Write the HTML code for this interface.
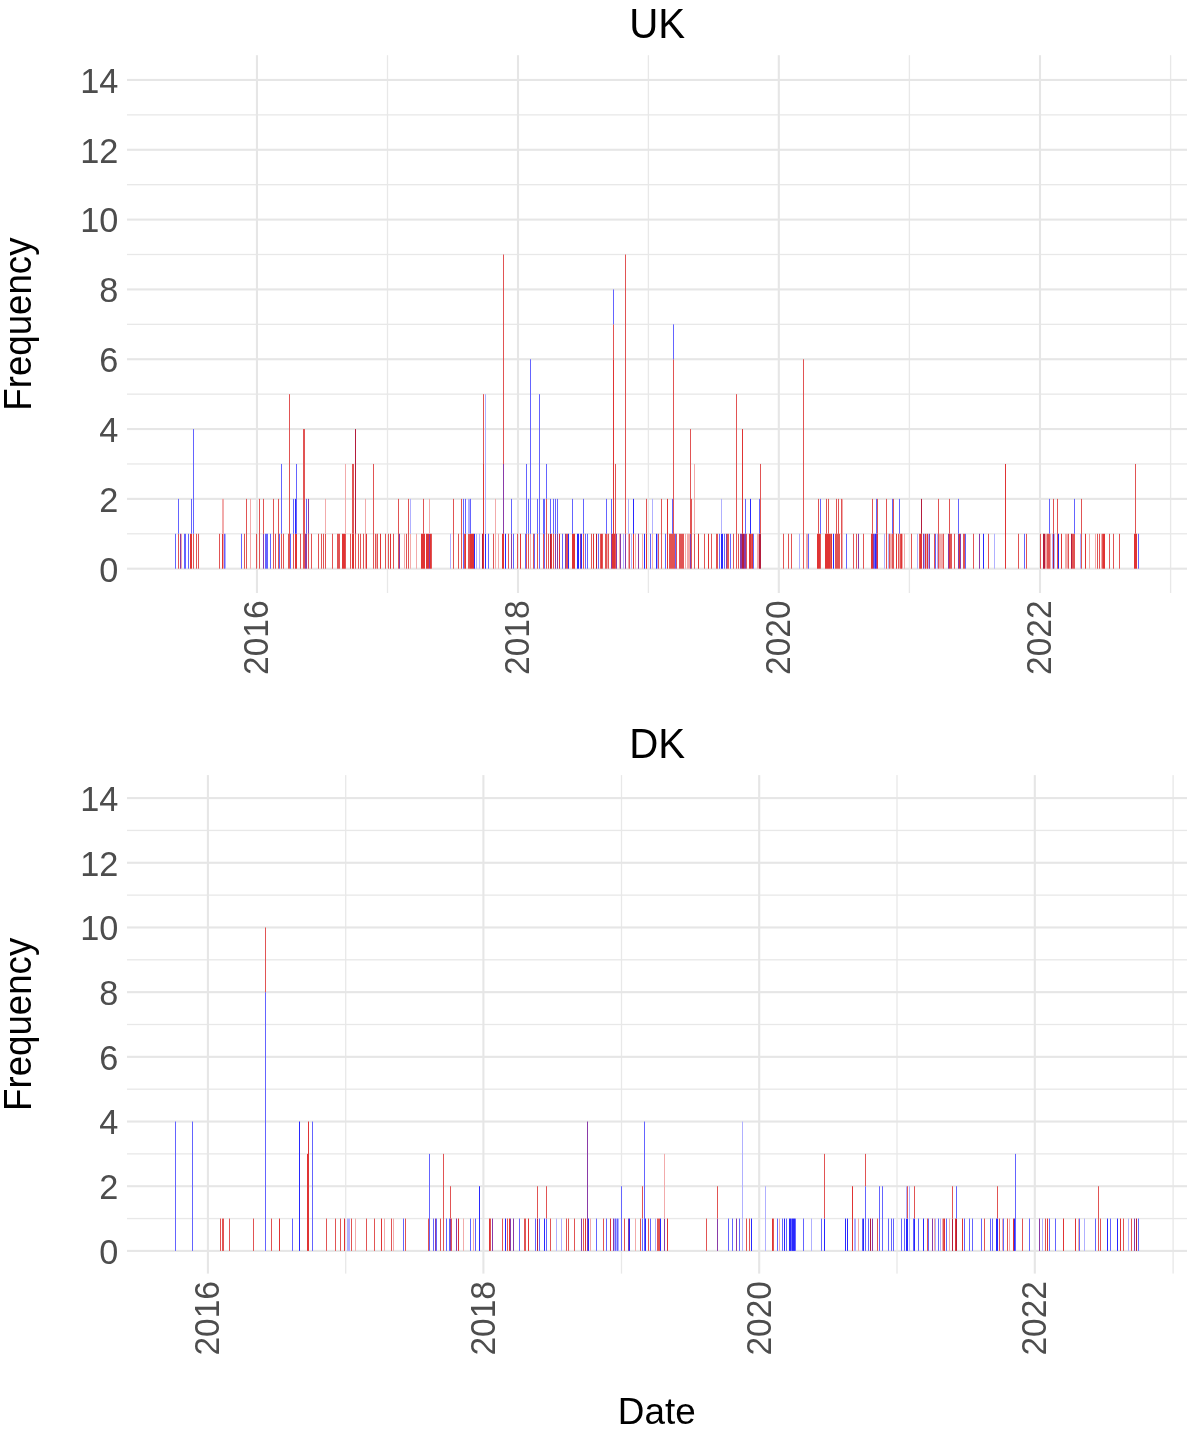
<!DOCTYPE html>
<html><head><meta charset="utf-8"><title>Frequency by date</title>
<style>
html,body{margin:0;padding:0;background:#fff;}
body{width:1187px;height:1442px;overflow:hidden;}
svg{display:block;}
text{font-family:"Liberation Sans",Arial,Helvetica,sans-serif;}
.tk{font-size:35.2px;fill:#4d4d4d;}
.ti{font-size:42.6px;fill:#000;}
.ax{font-size:38.0px;fill:#000;}
.ax2{font-size:37.85px;fill:#000;}
</style></head><body>
<svg width="1187" height="1442" viewBox="0 0 1187 1442">
<rect width="100%" height="100%" fill="#fff"/>
<g><rect x="127.0" y="533.14" width="1060.0" height="1.3" fill="#e8e8e8"/><rect x="127.0" y="463.32" width="1060.0" height="1.3" fill="#e8e8e8"/><rect x="127.0" y="393.50" width="1060.0" height="1.3" fill="#e8e8e8"/><rect x="127.0" y="323.68" width="1060.0" height="1.3" fill="#e8e8e8"/><rect x="127.0" y="253.86" width="1060.0" height="1.3" fill="#e8e8e8"/><rect x="127.0" y="184.04" width="1060.0" height="1.3" fill="#e8e8e8"/><rect x="127.0" y="114.22" width="1060.0" height="1.3" fill="#e8e8e8"/><rect x="386.85" y="55.2" width="1.3" height="537.80" fill="#e8e8e8"/><rect x="647.75" y="55.2" width="1.3" height="537.80" fill="#e8e8e8"/><rect x="908.75" y="55.2" width="1.3" height="537.80" fill="#e8e8e8"/><rect x="1169.95" y="55.2" width="1.3" height="537.80" fill="#e8e8e8"/><rect x="127.0" y="567.65" width="1060.0" height="2.1" fill="#e6e6e6"/><rect x="127.0" y="497.83" width="1060.0" height="2.1" fill="#e6e6e6"/><rect x="127.0" y="428.01" width="1060.0" height="2.1" fill="#e6e6e6"/><rect x="127.0" y="358.19" width="1060.0" height="2.1" fill="#e6e6e6"/><rect x="127.0" y="288.37" width="1060.0" height="2.1" fill="#e6e6e6"/><rect x="127.0" y="218.55" width="1060.0" height="2.1" fill="#e6e6e6"/><rect x="127.0" y="148.73" width="1060.0" height="2.1" fill="#e6e6e6"/><rect x="127.0" y="78.91" width="1060.0" height="2.1" fill="#e6e6e6"/><rect x="255.90" y="55.2" width="2.1" height="537.80" fill="#e6e6e6"/><rect x="516.95" y="55.2" width="2.1" height="537.80" fill="#e6e6e6"/><rect x="777.75" y="55.2" width="2.1" height="537.80" fill="#e6e6e6"/><rect x="1038.95" y="55.2" width="2.1" height="537.80" fill="#e6e6e6"/></g>
<g><rect x="175" y="533.79" width="1" height="34.91" fill="#6464ff"/><rect x="178" y="533.79" width="1" height="34.91" fill="#e15454"/><rect x="178" y="498.88" width="1" height="34.91" fill="#6464ff"/><rect x="180" y="533.79" width="1" height="34.91" fill="#8a3aa8"/><rect x="181" y="533.79" width="1" height="34.91" fill="#f2abab"/><rect x="184" y="533.79" width="1" height="34.91" fill="#6464ff"/><rect x="185" y="533.79" width="1" height="34.91" fill="#6464ff"/><rect x="188" y="533.79" width="1" height="34.91" fill="#6464ff"/><rect x="190" y="533.79" width="1" height="34.91" fill="#e03434"/><rect x="191" y="533.79" width="1" height="34.91" fill="#e03434"/><rect x="191" y="498.88" width="1" height="34.91" fill="#6464ff"/><rect x="193" y="533.79" width="1" height="34.91" fill="#e15454"/><rect x="193" y="429.06" width="1" height="104.73" fill="#6464ff"/><rect x="196" y="533.79" width="1" height="34.91" fill="#e15454"/><rect x="198" y="533.79" width="1" height="34.91" fill="#e15454"/><rect x="219" y="533.79" width="1" height="34.91" fill="#e15454"/><rect x="222" y="533.79" width="1" height="34.91" fill="#e03434"/><rect x="222" y="498.88" width="1" height="34.91" fill="#f2abab"/><rect x="223" y="498.88" width="1" height="69.82" fill="#f2abab"/><rect x="224" y="533.79" width="1" height="34.91" fill="#6464ff"/><rect x="225" y="533.79" width="1" height="34.91" fill="#b0b0ff"/><rect x="241" y="533.79" width="1" height="34.91" fill="#6464ff"/><rect x="244" y="533.79" width="1" height="34.91" fill="#e15454"/><rect x="246" y="498.88" width="1" height="69.82" fill="#e15454"/><rect x="250" y="498.88" width="1" height="69.82" fill="#f2abab"/><rect x="256" y="533.79" width="1" height="34.91" fill="#e15454"/><rect x="259" y="498.88" width="1" height="69.82" fill="#e15454"/><rect x="263" y="533.79" width="1" height="34.91" fill="#8a3aa8"/><rect x="263" y="498.88" width="1" height="34.91" fill="#e15454"/><rect x="265" y="533.79" width="1" height="34.91" fill="#6464ff"/><rect x="266" y="533.79" width="1" height="34.91" fill="#6464ff"/><rect x="267" y="533.79" width="1" height="34.91" fill="#6464ff"/><rect x="270" y="533.79" width="1" height="34.91" fill="#6464ff"/><rect x="273" y="498.88" width="1" height="69.82" fill="#e15454"/><rect x="275" y="533.79" width="1" height="34.91" fill="#e15454"/><rect x="278" y="498.88" width="1" height="69.82" fill="#e15454"/><rect x="279" y="533.79" width="1" height="34.91" fill="#6464ff"/><rect x="281" y="533.79" width="1" height="34.91" fill="#e15454"/><rect x="281" y="463.97" width="1" height="69.82" fill="#6464ff"/><rect x="283" y="533.79" width="1" height="34.91" fill="#e15454"/><rect x="288" y="533.79" width="1" height="34.91" fill="#e15454"/><rect x="289" y="394.15" width="1" height="174.55" fill="#e15454"/><rect x="290" y="533.79" width="1" height="34.91" fill="#6464ff"/><rect x="293" y="533.79" width="1" height="34.91" fill="#e15454"/><rect x="293" y="498.88" width="1" height="34.91" fill="#6464ff"/><rect x="295" y="533.79" width="1" height="34.91" fill="#e03434"/><rect x="295" y="498.88" width="1" height="34.91" fill="#2828ff"/><rect x="296" y="533.79" width="1" height="34.91" fill="#e03434"/><rect x="296" y="463.97" width="1" height="69.82" fill="#6464ff"/><rect x="300" y="533.79" width="1" height="34.91" fill="#e15454"/><rect x="303" y="429.06" width="1" height="139.64" fill="#e15454"/><rect x="304" y="429.06" width="1" height="139.64" fill="#e15454"/><rect x="305" y="533.79" width="1" height="34.91" fill="#8a3aa8"/><rect x="306" y="533.79" width="1" height="34.91" fill="#8a3aa8"/><rect x="306" y="498.88" width="1" height="34.91" fill="#6464ff"/><rect x="308" y="533.79" width="1" height="34.91" fill="#e15454"/><rect x="308" y="498.88" width="1" height="34.91" fill="#8a3aa8"/><rect x="311" y="533.79" width="1" height="34.91" fill="#e15454"/><rect x="318" y="533.79" width="1" height="34.91" fill="#e15454"/><rect x="321" y="533.79" width="1" height="34.91" fill="#e15454"/><rect x="323" y="533.79" width="1" height="34.91" fill="#e15454"/><rect x="325" y="533.79" width="1" height="34.91" fill="#e15454"/><rect x="325" y="498.88" width="1" height="34.91" fill="#f2abab"/><rect x="332" y="533.79" width="1" height="34.91" fill="#e15454"/><rect x="337" y="533.79" width="1" height="34.91" fill="#e15454"/><rect x="338" y="533.79" width="1" height="34.91" fill="#e15454"/><rect x="339" y="533.79" width="1" height="34.91" fill="#e15454"/><rect x="342" y="533.79" width="1" height="34.91" fill="#e03434"/><rect x="343" y="533.79" width="1" height="34.91" fill="#e03434"/><rect x="344" y="533.79" width="1" height="34.91" fill="#e03434"/><rect x="345" y="533.79" width="1" height="34.91" fill="#e15454"/><rect x="345" y="463.97" width="1" height="69.82" fill="#f2abab"/><rect x="350" y="533.79" width="1" height="34.91" fill="#e15454"/><rect x="352" y="533.79" width="1" height="34.91" fill="#e03434"/><rect x="352" y="463.97" width="1" height="69.82" fill="#e15454"/><rect x="353" y="533.79" width="1" height="34.91" fill="#e03434"/><rect x="353" y="463.97" width="1" height="69.82" fill="#e15454"/><rect x="355" y="533.79" width="1" height="34.91" fill="#e15454"/><rect x="355" y="429.06" width="1" height="104.73" fill="#b41c3c"/><rect x="358" y="533.79" width="1" height="34.91" fill="#e15454"/><rect x="360" y="533.79" width="1" height="34.91" fill="#e15454"/><rect x="363" y="533.79" width="1" height="34.91" fill="#e15454"/><rect x="365" y="498.88" width="1" height="69.82" fill="#f2abab"/><rect x="366" y="533.79" width="1" height="34.91" fill="#e03434"/><rect x="373" y="463.97" width="1" height="104.73" fill="#e15454"/><rect x="375" y="533.79" width="1" height="34.91" fill="#e15454"/><rect x="376" y="533.79" width="1" height="34.91" fill="#f2abab"/><rect x="377" y="533.79" width="1" height="34.91" fill="#e15454"/><rect x="380" y="533.79" width="1" height="34.91" fill="#e03434"/><rect x="385" y="533.79" width="1" height="34.91" fill="#e15454"/><rect x="388" y="533.79" width="1" height="34.91" fill="#e15454"/><rect x="390" y="533.79" width="1" height="34.91" fill="#e03434"/><rect x="393" y="533.79" width="1" height="34.91" fill="#e15454"/><rect x="398" y="498.88" width="1" height="69.82" fill="#e15454"/><rect x="399" y="533.79" width="1" height="34.91" fill="#8a3aa8"/><rect x="404" y="533.79" width="1" height="34.91" fill="#f2abab"/><rect x="406" y="533.79" width="1" height="34.91" fill="#e15454"/><rect x="408" y="498.88" width="1" height="69.82" fill="#e15454"/><rect x="410" y="533.79" width="1" height="34.91" fill="#f2abab"/><rect x="410" y="498.88" width="1" height="34.91" fill="#b0b0ff"/><rect x="416" y="533.79" width="1" height="34.91" fill="#f2abab"/><rect x="421" y="533.79" width="1" height="34.91" fill="#e03434"/><rect x="422" y="533.79" width="1" height="34.91" fill="#e03434"/><rect x="423" y="533.79" width="1" height="34.91" fill="#e03434"/><rect x="423" y="498.88" width="1" height="34.91" fill="#e15454"/><rect x="424" y="533.79" width="1" height="34.91" fill="#e03434"/><rect x="426" y="533.79" width="1" height="34.91" fill="#e03434"/><rect x="427" y="533.79" width="1" height="34.91" fill="#e03434"/><rect x="428" y="533.79" width="1" height="34.91" fill="#e03434"/><rect x="429" y="533.79" width="1" height="34.91" fill="#8a3aa8"/><rect x="429" y="498.88" width="1" height="34.91" fill="#f2abab"/><rect x="430" y="533.79" width="1" height="34.91" fill="#e03434"/><rect x="431" y="533.79" width="1" height="34.91" fill="#e15454"/><rect x="450" y="533.79" width="1" height="34.91" fill="#b0b0ff"/><rect x="453" y="498.88" width="1" height="69.82" fill="#e15454"/><rect x="458" y="533.79" width="1" height="34.91" fill="#e15454"/><rect x="461" y="498.88" width="1" height="69.82" fill="#e15454"/><rect x="463" y="498.88" width="1" height="69.82" fill="#6464ff"/><rect x="464" y="533.79" width="1" height="34.91" fill="#e15454"/><rect x="465" y="533.79" width="1" height="34.91" fill="#e03434"/><rect x="465" y="498.88" width="1" height="34.91" fill="#6464ff"/><rect x="468" y="533.79" width="1" height="34.91" fill="#e15454"/><rect x="468" y="498.88" width="1" height="34.91" fill="#b0b0ff"/><rect x="469" y="533.79" width="1" height="34.91" fill="#e15454"/><rect x="469" y="498.88" width="1" height="34.91" fill="#b0b0ff"/><rect x="470" y="533.79" width="1" height="34.91" fill="#e03434"/><rect x="470" y="498.88" width="1" height="34.91" fill="#6464ff"/><rect x="471" y="533.79" width="1" height="34.91" fill="#e03434"/><rect x="472" y="533.79" width="1" height="34.91" fill="#e03434"/><rect x="473" y="533.79" width="1" height="34.91" fill="#e03434"/><rect x="474" y="533.79" width="1" height="34.91" fill="#2828ff"/><rect x="476" y="533.79" width="1" height="34.91" fill="#b0b0ff"/><rect x="479" y="533.79" width="1" height="34.91" fill="#b0b0ff"/><rect x="482" y="533.79" width="1" height="34.91" fill="#b41c3c"/><rect x="483" y="463.97" width="1" height="104.73" fill="#e03434"/><rect x="483" y="394.15" width="1" height="69.82" fill="#e15454"/><rect x="485" y="533.79" width="1" height="34.91" fill="#2828ff"/><rect x="485" y="394.15" width="1" height="139.64" fill="#b0b0ff"/><rect x="488" y="533.79" width="1" height="34.91" fill="#6464ff"/><rect x="493" y="533.79" width="1" height="34.91" fill="#e15454"/><rect x="495" y="498.88" width="1" height="69.82" fill="#f2abab"/><rect x="498" y="533.79" width="1" height="34.91" fill="#f2abab"/><rect x="502" y="533.79" width="1" height="34.91" fill="#e03434"/><rect x="503" y="533.79" width="1" height="34.91" fill="#e03434"/><rect x="503" y="463.97" width="1" height="69.82" fill="#8a3aa8"/><rect x="503" y="254.51" width="1" height="209.46" fill="#e15454"/><rect x="505" y="533.79" width="1" height="34.91" fill="#2828ff"/><rect x="508" y="533.79" width="1" height="34.91" fill="#e15454"/><rect x="511" y="533.79" width="1" height="34.91" fill="#8a3aa8"/><rect x="511" y="498.88" width="1" height="34.91" fill="#6464ff"/><rect x="513" y="533.79" width="1" height="34.91" fill="#6464ff"/><rect x="517" y="533.79" width="1" height="34.91" fill="#e15454"/><rect x="520" y="533.79" width="1" height="34.91" fill="#e03434"/><rect x="525" y="533.79" width="1" height="34.91" fill="#6464ff"/><rect x="526" y="533.79" width="1" height="34.91" fill="#e15454"/><rect x="526" y="463.97" width="1" height="69.82" fill="#6464ff"/><rect x="528" y="533.79" width="1" height="34.91" fill="#e15454"/><rect x="528" y="498.88" width="1" height="34.91" fill="#6464ff"/><rect x="530" y="533.79" width="1" height="34.91" fill="#f2abab"/><rect x="530" y="359.24" width="1" height="174.55" fill="#6464ff"/><rect x="533" y="533.79" width="1" height="34.91" fill="#e15454"/><rect x="534" y="533.79" width="1" height="34.91" fill="#6464ff"/><rect x="537" y="533.79" width="1" height="34.91" fill="#e15454"/><rect x="537" y="498.88" width="1" height="34.91" fill="#6464ff"/><rect x="539" y="394.15" width="1" height="174.55" fill="#6464ff"/><rect x="543" y="533.79" width="1" height="34.91" fill="#e15454"/><rect x="543" y="498.88" width="1" height="34.91" fill="#6464ff"/><rect x="544" y="498.88" width="1" height="69.82" fill="#6464ff"/><rect x="546" y="498.88" width="1" height="69.82" fill="#e15454"/><rect x="546" y="463.97" width="1" height="34.91" fill="#6464ff"/><rect x="548" y="533.79" width="1" height="34.91" fill="#e15454"/><rect x="550" y="533.79" width="1" height="34.91" fill="#b41c3c"/><rect x="550" y="498.88" width="1" height="34.91" fill="#6464ff"/><rect x="551" y="533.79" width="1" height="34.91" fill="#e03434"/><rect x="553" y="533.79" width="1" height="34.91" fill="#e15454"/><rect x="553" y="498.88" width="1" height="34.91" fill="#6464ff"/><rect x="555" y="533.79" width="1" height="34.91" fill="#8a3aa8"/><rect x="555" y="498.88" width="1" height="34.91" fill="#6464ff"/><rect x="557" y="533.79" width="1" height="34.91" fill="#8a3aa8"/><rect x="557" y="498.88" width="1" height="34.91" fill="#6464ff"/><rect x="559" y="533.79" width="1" height="34.91" fill="#e03434"/><rect x="562" y="533.79" width="1" height="34.91" fill="#6464ff"/><rect x="565" y="533.79" width="1" height="34.91" fill="#8a3aa8"/><rect x="566" y="533.79" width="1" height="34.91" fill="#e15454"/><rect x="567" y="533.79" width="1" height="34.91" fill="#e15454"/><rect x="568" y="533.79" width="1" height="34.91" fill="#2828ff"/><rect x="572" y="533.79" width="1" height="34.91" fill="#e03434"/><rect x="572" y="498.88" width="1" height="34.91" fill="#6464ff"/><rect x="573" y="533.79" width="1" height="34.91" fill="#e03434"/><rect x="574" y="533.79" width="1" height="34.91" fill="#e03434"/><rect x="577" y="533.79" width="1" height="34.91" fill="#2828ff"/><rect x="578" y="533.79" width="1" height="34.91" fill="#2828ff"/><rect x="580" y="533.79" width="1" height="34.91" fill="#8a3aa8"/><rect x="581" y="533.79" width="1" height="34.91" fill="#2828ff"/><rect x="583" y="533.79" width="1" height="34.91" fill="#e15454"/><rect x="583" y="498.88" width="1" height="34.91" fill="#6464ff"/><rect x="585" y="533.79" width="1" height="34.91" fill="#6464ff"/><rect x="587" y="533.79" width="1" height="34.91" fill="#6464ff"/><rect x="591" y="533.79" width="1" height="34.91" fill="#e15454"/><rect x="593" y="533.79" width="1" height="34.91" fill="#e03434"/><rect x="596" y="533.79" width="1" height="34.91" fill="#b41c3c"/><rect x="598" y="533.79" width="1" height="34.91" fill="#6464ff"/><rect x="600" y="533.79" width="1" height="34.91" fill="#e15454"/><rect x="601" y="533.79" width="1" height="34.91" fill="#e03434"/><rect x="602" y="533.79" width="1" height="34.91" fill="#e15454"/><rect x="605" y="533.79" width="1" height="34.91" fill="#e15454"/><rect x="606" y="533.79" width="1" height="34.91" fill="#e15454"/><rect x="606" y="498.88" width="1" height="34.91" fill="#6464ff"/><rect x="607" y="533.79" width="1" height="34.91" fill="#f2abab"/><rect x="608" y="533.79" width="1" height="34.91" fill="#e15454"/><rect x="611" y="533.79" width="1" height="34.91" fill="#8a3aa8"/><rect x="611" y="498.88" width="1" height="34.91" fill="#6464ff"/><rect x="612" y="533.79" width="1" height="34.91" fill="#e03434"/><rect x="613" y="359.24" width="1" height="209.46" fill="#e03434"/><rect x="613" y="324.33" width="1" height="34.91" fill="#e15454"/><rect x="613" y="289.42" width="1" height="34.91" fill="#6464ff"/><rect x="614" y="533.79" width="1" height="34.91" fill="#e03434"/><rect x="615" y="463.97" width="1" height="104.73" fill="#e15454"/><rect x="616" y="533.79" width="1" height="34.91" fill="#8a3aa8"/><rect x="619" y="533.79" width="1" height="34.91" fill="#f2abab"/><rect x="620" y="533.79" width="1" height="34.91" fill="#8a3aa8"/><rect x="623" y="533.79" width="1" height="34.91" fill="#b0b0ff"/><rect x="625" y="533.79" width="1" height="34.91" fill="#8a3aa8"/><rect x="625" y="254.51" width="1" height="279.28" fill="#e15454"/><rect x="628" y="533.79" width="1" height="34.91" fill="#f2abab"/><rect x="628" y="498.88" width="1" height="34.91" fill="#b0b0ff"/><rect x="629" y="533.79" width="1" height="34.91" fill="#e15454"/><rect x="631" y="533.79" width="1" height="34.91" fill="#b0b0ff"/><rect x="633" y="533.79" width="1" height="34.91" fill="#e03434"/><rect x="633" y="498.88" width="1" height="34.91" fill="#2828ff"/><rect x="635" y="533.79" width="1" height="34.91" fill="#f2abab"/><rect x="638" y="533.79" width="1" height="34.91" fill="#8a3aa8"/><rect x="642" y="533.79" width="1" height="34.91" fill="#f2abab"/><rect x="644" y="533.79" width="1" height="34.91" fill="#2828ff"/><rect x="646" y="533.79" width="1" height="34.91" fill="#e03434"/><rect x="646" y="498.88" width="1" height="34.91" fill="#e15454"/><rect x="650" y="533.79" width="1" height="34.91" fill="#6464ff"/><rect x="652" y="533.79" width="1" height="34.91" fill="#f2abab"/><rect x="652" y="498.88" width="1" height="34.91" fill="#b0b0ff"/><rect x="656" y="533.79" width="1" height="34.91" fill="#2828ff"/><rect x="657" y="533.79" width="1" height="34.91" fill="#b0b0ff"/><rect x="658" y="533.79" width="1" height="34.91" fill="#e15454"/><rect x="661" y="498.88" width="1" height="69.82" fill="#e15454"/><rect x="665" y="533.79" width="1" height="34.91" fill="#6464ff"/><rect x="667" y="498.88" width="1" height="69.82" fill="#e03434"/><rect x="669" y="533.79" width="1" height="34.91" fill="#e15454"/><rect x="670" y="533.79" width="1" height="34.91" fill="#e15454"/><rect x="671" y="533.79" width="1" height="34.91" fill="#e15454"/><rect x="672" y="533.79" width="1" height="34.91" fill="#e15454"/><rect x="672" y="498.88" width="1" height="34.91" fill="#6464ff"/><rect x="673" y="359.24" width="1" height="209.46" fill="#e15454"/><rect x="673" y="324.33" width="1" height="34.91" fill="#6464ff"/><rect x="674" y="533.79" width="1" height="34.91" fill="#e15454"/><rect x="675" y="533.79" width="1" height="34.91" fill="#6464ff"/><rect x="676" y="533.79" width="1" height="34.91" fill="#e15454"/><rect x="679" y="533.79" width="1" height="34.91" fill="#e15454"/><rect x="680" y="533.79" width="1" height="34.91" fill="#e15454"/><rect x="681" y="533.79" width="1" height="34.91" fill="#e15454"/><rect x="682" y="533.79" width="1" height="34.91" fill="#e15454"/><rect x="683" y="533.79" width="1" height="34.91" fill="#e15454"/><rect x="685" y="533.79" width="1" height="34.91" fill="#f2abab"/><rect x="687" y="533.79" width="1" height="34.91" fill="#f2abab"/><rect x="688" y="533.79" width="1" height="34.91" fill="#f2abab"/><rect x="689" y="533.79" width="1" height="34.91" fill="#f2abab"/><rect x="690" y="533.79" width="1" height="34.91" fill="#8a3aa8"/><rect x="690" y="429.06" width="1" height="104.73" fill="#e15454"/><rect x="691" y="498.88" width="1" height="69.82" fill="#e15454"/><rect x="694" y="533.79" width="1" height="34.91" fill="#e15454"/><rect x="694" y="463.97" width="1" height="69.82" fill="#f2abab"/><rect x="698" y="533.79" width="1" height="34.91" fill="#e03434"/><rect x="704" y="533.79" width="1" height="34.91" fill="#e15454"/><rect x="708" y="533.79" width="1" height="34.91" fill="#e03434"/><rect x="711" y="533.79" width="1" height="34.91" fill="#e15454"/><rect x="716" y="533.79" width="1" height="34.91" fill="#e15454"/><rect x="717" y="533.79" width="1" height="34.91" fill="#e15454"/><rect x="719" y="533.79" width="1" height="34.91" fill="#6464ff"/><rect x="721" y="533.79" width="1" height="34.91" fill="#2828ff"/><rect x="721" y="498.88" width="1" height="34.91" fill="#b0b0ff"/><rect x="722" y="533.79" width="1" height="34.91" fill="#2828ff"/><rect x="724" y="533.79" width="1" height="34.91" fill="#6464ff"/><rect x="726" y="533.79" width="1" height="34.91" fill="#8a3aa8"/><rect x="727" y="533.79" width="1" height="34.91" fill="#e15454"/><rect x="728" y="533.79" width="1" height="34.91" fill="#e15454"/><rect x="730" y="533.79" width="1" height="34.91" fill="#6464ff"/><rect x="733" y="533.79" width="1" height="34.91" fill="#e15454"/><rect x="736" y="394.15" width="1" height="174.55" fill="#e15454"/><rect x="738" y="533.79" width="1" height="34.91" fill="#e15454"/><rect x="740" y="533.79" width="1" height="34.91" fill="#8a3aa8"/><rect x="741" y="533.79" width="1" height="34.91" fill="#8a3aa8"/><rect x="742" y="533.79" width="1" height="34.91" fill="#b41c3c"/><rect x="742" y="429.06" width="1" height="104.73" fill="#e03434"/><rect x="743" y="533.79" width="1" height="34.91" fill="#b41c3c"/><rect x="744" y="533.79" width="1" height="34.91" fill="#8a3aa8"/><rect x="745" y="533.79" width="1" height="34.91" fill="#8a3aa8"/><rect x="745" y="498.88" width="1" height="34.91" fill="#6464ff"/><rect x="746" y="533.79" width="1" height="34.91" fill="#e15454"/><rect x="749" y="533.79" width="1" height="34.91" fill="#e03434"/><rect x="750" y="533.79" width="1" height="34.91" fill="#e03434"/><rect x="750" y="498.88" width="1" height="34.91" fill="#2828ff"/><rect x="751" y="533.79" width="1" height="34.91" fill="#e15454"/><rect x="752" y="533.79" width="1" height="34.91" fill="#e03434"/><rect x="753" y="533.79" width="1" height="34.91" fill="#6464ff"/><rect x="757" y="533.79" width="1" height="34.91" fill="#f2abab"/><rect x="758" y="533.79" width="1" height="34.91" fill="#f2abab"/><rect x="759" y="533.79" width="1" height="34.91" fill="#b41c3c"/><rect x="759" y="498.88" width="1" height="34.91" fill="#6464ff"/><rect x="760" y="533.79" width="1" height="34.91" fill="#b41c3c"/><rect x="760" y="463.97" width="1" height="69.82" fill="#e15454"/><rect x="783" y="533.79" width="1" height="34.91" fill="#e15454"/><rect x="788" y="533.79" width="1" height="34.91" fill="#e15454"/><rect x="791" y="533.79" width="1" height="34.91" fill="#e15454"/><rect x="799" y="533.79" width="1" height="34.91" fill="#b0b0ff"/><rect x="803" y="359.24" width="1" height="209.46" fill="#e15454"/><rect x="806" y="533.79" width="1" height="34.91" fill="#f2abab"/><rect x="807" y="533.79" width="1" height="34.91" fill="#f2abab"/><rect x="808" y="533.79" width="1" height="34.91" fill="#6464ff"/><rect x="817" y="533.79" width="1" height="34.91" fill="#e03434"/><rect x="818" y="533.79" width="1" height="34.91" fill="#e03434"/><rect x="818" y="498.88" width="1" height="34.91" fill="#e15454"/><rect x="819" y="533.79" width="1" height="34.91" fill="#e03434"/><rect x="820" y="533.79" width="1" height="34.91" fill="#e15454"/><rect x="820" y="498.88" width="1" height="34.91" fill="#6464ff"/><rect x="825" y="533.79" width="1" height="34.91" fill="#e03434"/><rect x="826" y="533.79" width="1" height="34.91" fill="#e03434"/><rect x="826" y="498.88" width="1" height="34.91" fill="#e15454"/><rect x="827" y="533.79" width="1" height="34.91" fill="#e03434"/><rect x="828" y="533.79" width="1" height="34.91" fill="#e03434"/><rect x="828" y="498.88" width="1" height="34.91" fill="#e15454"/><rect x="829" y="533.79" width="1" height="34.91" fill="#e03434"/><rect x="830" y="533.79" width="1" height="34.91" fill="#e15454"/><rect x="831" y="533.79" width="1" height="34.91" fill="#e03434"/><rect x="833" y="533.79" width="1" height="34.91" fill="#2828ff"/><rect x="835" y="533.79" width="1" height="34.91" fill="#e15454"/><rect x="836" y="498.88" width="1" height="69.82" fill="#e15454"/><rect x="837" y="533.79" width="1" height="34.91" fill="#e15454"/><rect x="838" y="498.88" width="1" height="69.82" fill="#e15454"/><rect x="839" y="533.79" width="1" height="34.91" fill="#e15454"/><rect x="841" y="498.88" width="1" height="69.82" fill="#e15454"/><rect x="842" y="498.88" width="1" height="69.82" fill="#f2abab"/><rect x="846" y="533.79" width="1" height="34.91" fill="#6464ff"/><rect x="853" y="533.79" width="1" height="34.91" fill="#e15454"/><rect x="856" y="533.79" width="1" height="34.91" fill="#e15454"/><rect x="858" y="533.79" width="1" height="34.91" fill="#8a3aa8"/><rect x="863" y="533.79" width="1" height="34.91" fill="#e15454"/><rect x="871" y="533.79" width="1" height="34.91" fill="#e03434"/><rect x="872" y="533.79" width="1" height="34.91" fill="#e03434"/><rect x="872" y="498.88" width="1" height="34.91" fill="#e15454"/><rect x="873" y="533.79" width="1" height="34.91" fill="#8a3aa8"/><rect x="874" y="533.79" width="1" height="34.91" fill="#6464ff"/><rect x="875" y="533.79" width="1" height="34.91" fill="#2828ff"/><rect x="876" y="533.79" width="1" height="34.91" fill="#8a3aa8"/><rect x="876" y="498.88" width="1" height="34.91" fill="#6464ff"/><rect x="877" y="533.79" width="1" height="34.91" fill="#e03434"/><rect x="877" y="498.88" width="1" height="34.91" fill="#e15454"/><rect x="884" y="533.79" width="1" height="34.91" fill="#b0b0ff"/><rect x="886" y="498.88" width="1" height="69.82" fill="#e15454"/><rect x="888" y="533.79" width="1" height="34.91" fill="#b0b0ff"/><rect x="889" y="533.79" width="1" height="34.91" fill="#e15454"/><rect x="890" y="533.79" width="1" height="34.91" fill="#f2abab"/><rect x="891" y="533.79" width="1" height="34.91" fill="#f2abab"/><rect x="892" y="533.79" width="1" height="34.91" fill="#e15454"/><rect x="892" y="498.88" width="1" height="34.91" fill="#6464ff"/><rect x="893" y="498.88" width="1" height="69.82" fill="#e15454"/><rect x="896" y="533.79" width="1" height="34.91" fill="#e03434"/><rect x="898" y="533.79" width="1" height="34.91" fill="#e15454"/><rect x="899" y="533.79" width="1" height="34.91" fill="#f2abab"/><rect x="899" y="498.88" width="1" height="34.91" fill="#6464ff"/><rect x="900" y="533.79" width="1" height="34.91" fill="#e15454"/><rect x="901" y="533.79" width="1" height="34.91" fill="#e03434"/><rect x="902" y="533.79" width="1" height="34.91" fill="#f2abab"/><rect x="904" y="533.79" width="1" height="34.91" fill="#f2abab"/><rect x="911" y="533.79" width="1" height="34.91" fill="#e15454"/><rect x="917" y="533.79" width="1" height="34.91" fill="#b0b0ff"/><rect x="919" y="533.79" width="1" height="34.91" fill="#e15454"/><rect x="920" y="533.79" width="1" height="34.91" fill="#e03434"/><rect x="921" y="533.79" width="1" height="34.91" fill="#e03434"/><rect x="921" y="498.88" width="1" height="34.91" fill="#b41c3c"/><rect x="923" y="533.79" width="1" height="34.91" fill="#8a3aa8"/><rect x="924" y="533.79" width="1" height="34.91" fill="#b0b0ff"/><rect x="925" y="533.79" width="1" height="34.91" fill="#e03434"/><rect x="926" y="533.79" width="1" height="34.91" fill="#f2abab"/><rect x="927" y="533.79" width="1" height="34.91" fill="#e03434"/><rect x="928" y="533.79" width="1" height="34.91" fill="#b0b0ff"/><rect x="929" y="533.79" width="1" height="34.91" fill="#8a3aa8"/><rect x="934" y="533.79" width="1" height="34.91" fill="#e15454"/><rect x="935" y="533.79" width="1" height="34.91" fill="#6464ff"/><rect x="937" y="533.79" width="1" height="34.91" fill="#b0b0ff"/><rect x="938" y="498.88" width="1" height="69.82" fill="#e15454"/><rect x="939" y="533.79" width="1" height="34.91" fill="#f2abab"/><rect x="940" y="533.79" width="1" height="34.91" fill="#f2abab"/><rect x="941" y="533.79" width="1" height="34.91" fill="#f2abab"/><rect x="942" y="533.79" width="1" height="34.91" fill="#f2abab"/><rect x="943" y="533.79" width="1" height="34.91" fill="#e15454"/><rect x="948" y="533.79" width="1" height="34.91" fill="#8a3aa8"/><rect x="949" y="533.79" width="1" height="34.91" fill="#e03434"/><rect x="949" y="498.88" width="1" height="34.91" fill="#e15454"/><rect x="950" y="533.79" width="1" height="34.91" fill="#e15454"/><rect x="951" y="533.79" width="1" height="34.91" fill="#e15454"/><rect x="954" y="533.79" width="1" height="34.91" fill="#e15454"/><rect x="958" y="533.79" width="1" height="34.91" fill="#8a3aa8"/><rect x="958" y="498.88" width="1" height="34.91" fill="#6464ff"/><rect x="959" y="533.79" width="1" height="34.91" fill="#e03434"/><rect x="960" y="533.79" width="1" height="34.91" fill="#8a3aa8"/><rect x="963" y="533.79" width="1" height="34.91" fill="#e15454"/><rect x="964" y="533.79" width="1" height="34.91" fill="#e15454"/><rect x="965" y="533.79" width="1" height="34.91" fill="#6464ff"/><rect x="973" y="533.79" width="1" height="34.91" fill="#e15454"/><rect x="979" y="533.79" width="1" height="34.91" fill="#8a3aa8"/><rect x="983" y="533.79" width="1" height="34.91" fill="#2828ff"/><rect x="988" y="533.79" width="1" height="34.91" fill="#e15454"/><rect x="994" y="533.79" width="1" height="34.91" fill="#b0b0ff"/><rect x="1005" y="463.97" width="1" height="104.73" fill="#e03434"/><rect x="1018" y="533.79" width="1" height="34.91" fill="#e15454"/><rect x="1024" y="533.79" width="1" height="34.91" fill="#6464ff"/><rect x="1026" y="533.79" width="1" height="34.91" fill="#e15454"/><rect x="1040" y="533.79" width="1" height="34.91" fill="#e15454"/><rect x="1043" y="533.79" width="1" height="34.91" fill="#b41c3c"/><rect x="1044" y="533.79" width="1" height="34.91" fill="#b41c3c"/><rect x="1045" y="533.79" width="1" height="34.91" fill="#f2abab"/><rect x="1046" y="533.79" width="1" height="34.91" fill="#f2abab"/><rect x="1047" y="533.79" width="1" height="34.91" fill="#e15454"/><rect x="1048" y="533.79" width="1" height="34.91" fill="#e15454"/><rect x="1049" y="533.79" width="1" height="34.91" fill="#e15454"/><rect x="1049" y="498.88" width="1" height="34.91" fill="#6464ff"/><rect x="1050" y="533.79" width="1" height="34.91" fill="#f2abab"/><rect x="1052" y="533.79" width="1" height="34.91" fill="#b0b0ff"/><rect x="1053" y="533.79" width="1" height="34.91" fill="#b41c3c"/><rect x="1053" y="498.88" width="1" height="34.91" fill="#e15454"/><rect x="1054" y="533.79" width="1" height="34.91" fill="#b0b0ff"/><rect x="1057" y="498.88" width="1" height="69.82" fill="#e15454"/><rect x="1058" y="533.79" width="1" height="34.91" fill="#2828ff"/><rect x="1061" y="533.79" width="1" height="34.91" fill="#e03434"/><rect x="1065" y="533.79" width="1" height="34.91" fill="#f2abab"/><rect x="1066" y="533.79" width="1" height="34.91" fill="#f2abab"/><rect x="1067" y="533.79" width="1" height="34.91" fill="#f2abab"/><rect x="1068" y="533.79" width="1" height="34.91" fill="#e15454"/><rect x="1071" y="533.79" width="1" height="34.91" fill="#b41c3c"/><rect x="1072" y="533.79" width="1" height="34.91" fill="#e15454"/><rect x="1073" y="533.79" width="1" height="34.91" fill="#e15454"/><rect x="1074" y="533.79" width="1" height="34.91" fill="#e15454"/><rect x="1074" y="498.88" width="1" height="34.91" fill="#6464ff"/><rect x="1080" y="533.79" width="1" height="34.91" fill="#b0b0ff"/><rect x="1081" y="498.88" width="1" height="69.82" fill="#e15454"/><rect x="1085" y="533.79" width="1" height="34.91" fill="#e03434"/><rect x="1089" y="533.79" width="1" height="34.91" fill="#f2abab"/><rect x="1095" y="533.79" width="1" height="34.91" fill="#f2abab"/><rect x="1097" y="533.79" width="1" height="34.91" fill="#e15454"/><rect x="1099" y="533.79" width="1" height="34.91" fill="#e15454"/><rect x="1101" y="533.79" width="1" height="34.91" fill="#f2abab"/><rect x="1102" y="533.79" width="1" height="34.91" fill="#e15454"/><rect x="1103" y="533.79" width="1" height="34.91" fill="#e03434"/><rect x="1104" y="533.79" width="1" height="34.91" fill="#e03434"/><rect x="1109" y="533.79" width="1" height="34.91" fill="#e15454"/><rect x="1113" y="533.79" width="1" height="34.91" fill="#e15454"/><rect x="1119" y="533.79" width="1" height="34.91" fill="#e15454"/><rect x="1134" y="533.79" width="1" height="34.91" fill="#e03434"/><rect x="1135" y="533.79" width="1" height="34.91" fill="#e03434"/><rect x="1135" y="463.97" width="1" height="69.82" fill="#e15454"/><rect x="1136" y="533.79" width="1" height="34.91" fill="#e03434"/><rect x="1138" y="533.79" width="1" height="34.91" fill="#6464ff"/></g>
<text transform="translate(118.40,581.50) scale(0.975,1)" text-anchor="end" class="tk">0</text>
<text transform="translate(118.40,511.68) scale(0.975,1)" text-anchor="end" class="tk">2</text>
<text transform="translate(118.40,441.86) scale(0.975,1)" text-anchor="end" class="tk">4</text>
<text transform="translate(118.40,372.04) scale(0.975,1)" text-anchor="end" class="tk">6</text>
<text transform="translate(118.40,302.22) scale(0.975,1)" text-anchor="end" class="tk">8</text>
<text transform="translate(118.40,232.40) scale(0.975,1)" text-anchor="end" class="tk">10</text>
<text transform="translate(118.40,162.58) scale(0.975,1)" text-anchor="end" class="tk">12</text>
<text transform="translate(118.40,92.76) scale(0.975,1)" text-anchor="end" class="tk">14</text>
<text transform="translate(268.25,600.40) rotate(-90) scale(0.953,1)" text-anchor="end" class="tk">2016</text>
<text transform="translate(529.30,600.40) rotate(-90) scale(0.953,1)" text-anchor="end" class="tk">2018</text>
<text transform="translate(790.10,600.40) rotate(-90) scale(0.953,1)" text-anchor="end" class="tk">2020</text>
<text transform="translate(1051.30,600.40) rotate(-90) scale(0.953,1)" text-anchor="end" class="tk">2022</text>
<text transform="translate(657.15,38.00) scale(0.945,1)" text-anchor="middle" class="ti">UK</text>
<text transform="translate(31.00,324.10) rotate(-90) scale(0.965,1)" text-anchor="middle" class="ax">Frequency</text>
<g><rect x="127.0" y="1217.91" width="1060.0" height="1.3" fill="#e8e8e8"/><rect x="127.0" y="1153.22" width="1060.0" height="1.3" fill="#e8e8e8"/><rect x="127.0" y="1088.53" width="1060.0" height="1.3" fill="#e8e8e8"/><rect x="127.0" y="1023.85" width="1060.0" height="1.3" fill="#e8e8e8"/><rect x="127.0" y="959.16" width="1060.0" height="1.3" fill="#e8e8e8"/><rect x="127.0" y="894.48" width="1060.0" height="1.3" fill="#e8e8e8"/><rect x="127.0" y="829.79" width="1060.0" height="1.3" fill="#e8e8e8"/><rect x="345.05" y="775.1" width="1.3" height="498.50" fill="#e8e8e8"/><rect x="620.85" y="775.1" width="1.3" height="498.50" fill="#e8e8e8"/><rect x="896.35" y="775.1" width="1.3" height="498.50" fill="#e8e8e8"/><rect x="1172.45" y="775.1" width="1.3" height="498.50" fill="#e8e8e8"/><rect x="127.0" y="1249.85" width="1060.0" height="2.1" fill="#e6e6e6"/><rect x="127.0" y="1185.16" width="1060.0" height="2.1" fill="#e6e6e6"/><rect x="127.0" y="1120.48" width="1060.0" height="2.1" fill="#e6e6e6"/><rect x="127.0" y="1055.79" width="1060.0" height="2.1" fill="#e6e6e6"/><rect x="127.0" y="991.11" width="1060.0" height="2.1" fill="#e6e6e6"/><rect x="127.0" y="926.42" width="1060.0" height="2.1" fill="#e6e6e6"/><rect x="127.0" y="861.73" width="1060.0" height="2.1" fill="#e6e6e6"/><rect x="127.0" y="797.05" width="1060.0" height="2.1" fill="#e6e6e6"/><rect x="206.85" y="775.1" width="2.1" height="498.50" fill="#e6e6e6"/><rect x="482.35" y="775.1" width="2.1" height="498.50" fill="#e6e6e6"/><rect x="758.15" y="775.1" width="2.1" height="498.50" fill="#e6e6e6"/><rect x="1033.75" y="775.1" width="2.1" height="498.50" fill="#e6e6e6"/></g>
<g><rect x="175" y="1121.53" width="1" height="129.37" fill="#6464ff"/><rect x="192" y="1121.53" width="1" height="129.37" fill="#6464ff"/><rect x="220" y="1218.56" width="1" height="32.34" fill="#e15454"/><rect x="222" y="1218.56" width="1" height="32.34" fill="#e15454"/><rect x="223" y="1218.56" width="1" height="32.34" fill="#e15454"/><rect x="229" y="1218.56" width="1" height="32.34" fill="#e15454"/><rect x="253" y="1218.56" width="1" height="32.34" fill="#e15454"/><rect x="265" y="992.16" width="1" height="258.74" fill="#6464ff"/><rect x="265" y="927.47" width="1" height="64.69" fill="#e15454"/><rect x="271" y="1218.56" width="1" height="32.34" fill="#e15454"/><rect x="279" y="1218.56" width="1" height="32.34" fill="#e03434"/><rect x="292" y="1218.56" width="1" height="32.34" fill="#6464ff"/><rect x="299" y="1121.53" width="1" height="129.37" fill="#2828ff"/><rect x="307" y="1153.87" width="1" height="97.03" fill="#e03434"/><rect x="308" y="1121.53" width="1" height="129.37" fill="#e03434"/><rect x="312" y="1121.53" width="1" height="129.37" fill="#6464ff"/><rect x="326" y="1218.56" width="1" height="32.34" fill="#e15454"/><rect x="335" y="1218.56" width="1" height="32.34" fill="#e15454"/><rect x="340" y="1218.56" width="1" height="32.34" fill="#e15454"/><rect x="344" y="1218.56" width="1" height="32.34" fill="#e03434"/><rect x="347" y="1218.56" width="1" height="32.34" fill="#b0b0ff"/><rect x="348" y="1218.56" width="1" height="32.34" fill="#b0b0ff"/><rect x="349" y="1218.56" width="1" height="32.34" fill="#b0b0ff"/><rect x="351" y="1218.56" width="1" height="32.34" fill="#e15454"/><rect x="355" y="1218.56" width="1" height="32.34" fill="#f2abab"/><rect x="366" y="1218.56" width="1" height="32.34" fill="#e15454"/><rect x="374" y="1218.56" width="1" height="32.34" fill="#e15454"/><rect x="381" y="1218.56" width="1" height="32.34" fill="#e03434"/><rect x="384" y="1218.56" width="1" height="32.34" fill="#f2abab"/><rect x="391" y="1218.56" width="1" height="32.34" fill="#e15454"/><rect x="393" y="1218.56" width="1" height="32.34" fill="#f2abab"/><rect x="403" y="1218.56" width="1" height="32.34" fill="#6464ff"/><rect x="405" y="1218.56" width="1" height="32.34" fill="#e15454"/><rect x="428" y="1218.56" width="1" height="32.34" fill="#e15454"/><rect x="429" y="1153.87" width="1" height="97.03" fill="#6464ff"/><rect x="433" y="1218.56" width="1" height="32.34" fill="#6464ff"/><rect x="435" y="1218.56" width="1" height="32.34" fill="#8a3aa8"/><rect x="436" y="1218.56" width="1" height="32.34" fill="#6464ff"/><rect x="440" y="1218.56" width="1" height="32.34" fill="#e15454"/><rect x="443" y="1153.87" width="1" height="97.03" fill="#e15454"/><rect x="446" y="1218.56" width="1" height="32.34" fill="#6464ff"/><rect x="449" y="1218.56" width="1" height="32.34" fill="#6464ff"/><rect x="450" y="1218.56" width="1" height="32.34" fill="#8a3aa8"/><rect x="450" y="1186.21" width="1" height="32.34" fill="#e15454"/><rect x="451" y="1218.56" width="1" height="32.34" fill="#e15454"/><rect x="456" y="1218.56" width="1" height="32.34" fill="#8a3aa8"/><rect x="458" y="1218.56" width="1" height="32.34" fill="#e03434"/><rect x="463" y="1218.56" width="1" height="32.34" fill="#f2abab"/><rect x="470" y="1218.56" width="1" height="32.34" fill="#6464ff"/><rect x="473" y="1218.56" width="1" height="32.34" fill="#f2abab"/><rect x="475" y="1218.56" width="1" height="32.34" fill="#6464ff"/><rect x="479" y="1186.21" width="1" height="64.69" fill="#2828ff"/><rect x="489" y="1218.56" width="1" height="32.34" fill="#e03434"/><rect x="490" y="1218.56" width="1" height="32.34" fill="#e15454"/><rect x="492" y="1218.56" width="1" height="32.34" fill="#8a3aa8"/><rect x="502" y="1218.56" width="1" height="32.34" fill="#e15454"/><rect x="505" y="1218.56" width="1" height="32.34" fill="#2828ff"/><rect x="507" y="1218.56" width="1" height="32.34" fill="#e15454"/><rect x="509" y="1218.56" width="1" height="32.34" fill="#e03434"/><rect x="510" y="1218.56" width="1" height="32.34" fill="#8a3aa8"/><rect x="513" y="1218.56" width="1" height="32.34" fill="#8a3aa8"/><rect x="519" y="1218.56" width="1" height="32.34" fill="#6464ff"/><rect x="524" y="1218.56" width="1" height="32.34" fill="#e15454"/><rect x="525" y="1218.56" width="1" height="32.34" fill="#e15454"/><rect x="528" y="1218.56" width="1" height="32.34" fill="#e03434"/><rect x="535" y="1218.56" width="1" height="32.34" fill="#6464ff"/><rect x="537" y="1218.56" width="1" height="32.34" fill="#b41c3c"/><rect x="537" y="1186.21" width="1" height="32.34" fill="#e15454"/><rect x="539" y="1218.56" width="1" height="32.34" fill="#6464ff"/><rect x="544" y="1218.56" width="1" height="32.34" fill="#2828ff"/><rect x="546" y="1218.56" width="1" height="32.34" fill="#6464ff"/><rect x="546" y="1186.21" width="1" height="32.34" fill="#e15454"/><rect x="550" y="1218.56" width="1" height="32.34" fill="#e15454"/><rect x="556" y="1218.56" width="1" height="32.34" fill="#b0b0ff"/><rect x="561" y="1218.56" width="1" height="32.34" fill="#b0b0ff"/><rect x="566" y="1218.56" width="1" height="32.34" fill="#e15454"/><rect x="568" y="1218.56" width="1" height="32.34" fill="#e15454"/><rect x="574" y="1218.56" width="1" height="32.34" fill="#e15454"/><rect x="581" y="1218.56" width="1" height="32.34" fill="#8a3aa8"/><rect x="583" y="1218.56" width="1" height="32.34" fill="#e15454"/><rect x="585" y="1218.56" width="1" height="32.34" fill="#e03434"/><rect x="587" y="1121.53" width="1" height="129.37" fill="#8a3aa8"/><rect x="588" y="1218.56" width="1" height="32.34" fill="#2828ff"/><rect x="590" y="1218.56" width="1" height="32.34" fill="#f2abab"/><rect x="596" y="1218.56" width="1" height="32.34" fill="#6464ff"/><rect x="603" y="1218.56" width="1" height="32.34" fill="#e15454"/><rect x="606" y="1218.56" width="1" height="32.34" fill="#6464ff"/><rect x="610" y="1218.56" width="1" height="32.34" fill="#e03434"/><rect x="613" y="1218.56" width="1" height="32.34" fill="#8a3aa8"/><rect x="614" y="1218.56" width="1" height="32.34" fill="#b0b0ff"/><rect x="615" y="1218.56" width="1" height="32.34" fill="#6464ff"/><rect x="616" y="1218.56" width="1" height="32.34" fill="#b0b0ff"/><rect x="617" y="1218.56" width="1" height="32.34" fill="#6464ff"/><rect x="618" y="1218.56" width="1" height="32.34" fill="#b0b0ff"/><rect x="621" y="1186.21" width="1" height="64.69" fill="#6464ff"/><rect x="624" y="1218.56" width="1" height="32.34" fill="#e15454"/><rect x="628" y="1218.56" width="1" height="32.34" fill="#8a3aa8"/><rect x="629" y="1218.56" width="1" height="32.34" fill="#2828ff"/><rect x="635" y="1218.56" width="1" height="32.34" fill="#f2abab"/><rect x="640" y="1218.56" width="1" height="32.34" fill="#e15454"/><rect x="642" y="1218.56" width="1" height="32.34" fill="#6464ff"/><rect x="642" y="1186.21" width="1" height="32.34" fill="#e15454"/><rect x="644" y="1121.53" width="1" height="129.37" fill="#6464ff"/><rect x="645" y="1218.56" width="1" height="32.34" fill="#2828ff"/><rect x="648" y="1218.56" width="1" height="32.34" fill="#e15454"/><rect x="650" y="1218.56" width="1" height="32.34" fill="#6464ff"/><rect x="655" y="1218.56" width="1" height="32.34" fill="#b0b0ff"/><rect x="657" y="1218.56" width="1" height="32.34" fill="#e15454"/><rect x="658" y="1218.56" width="1" height="32.34" fill="#e15454"/><rect x="659" y="1218.56" width="1" height="32.34" fill="#e15454"/><rect x="660" y="1218.56" width="1" height="32.34" fill="#2828ff"/><rect x="664" y="1218.56" width="1" height="32.34" fill="#8a3aa8"/><rect x="664" y="1153.87" width="1" height="64.69" fill="#f2abab"/><rect x="667" y="1218.56" width="1" height="32.34" fill="#e03434"/><rect x="706" y="1218.56" width="1" height="32.34" fill="#e15454"/><rect x="717" y="1218.56" width="1" height="32.34" fill="#8a3aa8"/><rect x="717" y="1186.21" width="1" height="32.34" fill="#e15454"/><rect x="728" y="1218.56" width="1" height="32.34" fill="#6464ff"/><rect x="732" y="1218.56" width="1" height="32.34" fill="#6464ff"/><rect x="736" y="1218.56" width="1" height="32.34" fill="#8a3aa8"/><rect x="739" y="1218.56" width="1" height="32.34" fill="#6464ff"/><rect x="742" y="1121.53" width="1" height="129.37" fill="#b0b0ff"/><rect x="746" y="1218.56" width="1" height="32.34" fill="#e15454"/><rect x="749" y="1218.56" width="1" height="32.34" fill="#e15454"/><rect x="751" y="1218.56" width="1" height="32.34" fill="#2828ff"/><rect x="765" y="1186.21" width="1" height="64.69" fill="#b0b0ff"/><rect x="772" y="1218.56" width="1" height="32.34" fill="#e03434"/><rect x="773" y="1218.56" width="1" height="32.34" fill="#e15454"/><rect x="777" y="1218.56" width="1" height="32.34" fill="#6464ff"/><rect x="779" y="1218.56" width="1" height="32.34" fill="#f2abab"/><rect x="782" y="1218.56" width="1" height="32.34" fill="#6464ff"/><rect x="784" y="1218.56" width="1" height="32.34" fill="#2828ff"/><rect x="786" y="1218.56" width="1" height="32.34" fill="#6464ff"/><rect x="789" y="1218.56" width="1" height="32.34" fill="#2828ff"/><rect x="790" y="1218.56" width="1" height="32.34" fill="#2828ff"/><rect x="791" y="1218.56" width="1" height="32.34" fill="#6464ff"/><rect x="792" y="1218.56" width="1" height="32.34" fill="#2828ff"/><rect x="793" y="1218.56" width="1" height="32.34" fill="#2828ff"/><rect x="794" y="1218.56" width="1" height="32.34" fill="#2828ff"/><rect x="795" y="1218.56" width="1" height="32.34" fill="#6464ff"/><rect x="803" y="1218.56" width="1" height="32.34" fill="#6464ff"/><rect x="811" y="1218.56" width="1" height="32.34" fill="#b0b0ff"/><rect x="821" y="1218.56" width="1" height="32.34" fill="#6464ff"/><rect x="824" y="1218.56" width="1" height="32.34" fill="#2828ff"/><rect x="824" y="1153.87" width="1" height="64.69" fill="#e15454"/><rect x="845" y="1218.56" width="1" height="32.34" fill="#2828ff"/><rect x="847" y="1218.56" width="1" height="32.34" fill="#2828ff"/><rect x="852" y="1186.21" width="1" height="64.69" fill="#e03434"/><rect x="854" y="1218.56" width="1" height="32.34" fill="#b0b0ff"/><rect x="855" y="1218.56" width="1" height="32.34" fill="#b0b0ff"/><rect x="858" y="1218.56" width="1" height="32.34" fill="#f2abab"/><rect x="862" y="1218.56" width="1" height="32.34" fill="#6464ff"/><rect x="863" y="1218.56" width="1" height="32.34" fill="#2828ff"/><rect x="865" y="1186.21" width="1" height="64.69" fill="#6464ff"/><rect x="865" y="1153.87" width="1" height="32.34" fill="#e15454"/><rect x="868" y="1218.56" width="1" height="32.34" fill="#6464ff"/><rect x="870" y="1218.56" width="1" height="32.34" fill="#b41c3c"/><rect x="872" y="1218.56" width="1" height="32.34" fill="#8a3aa8"/><rect x="877" y="1218.56" width="1" height="32.34" fill="#e15454"/><rect x="879" y="1186.21" width="1" height="64.69" fill="#6464ff"/><rect x="882" y="1186.21" width="1" height="64.69" fill="#6464ff"/><rect x="888" y="1218.56" width="1" height="32.34" fill="#6464ff"/><rect x="891" y="1218.56" width="1" height="32.34" fill="#6464ff"/><rect x="893" y="1218.56" width="1" height="32.34" fill="#6464ff"/><rect x="901" y="1218.56" width="1" height="32.34" fill="#6464ff"/><rect x="904" y="1218.56" width="1" height="32.34" fill="#6464ff"/><rect x="906" y="1218.56" width="1" height="32.34" fill="#2828ff"/><rect x="906" y="1186.21" width="1" height="32.34" fill="#b0b0ff"/><rect x="907" y="1218.56" width="1" height="32.34" fill="#2828ff"/><rect x="907" y="1186.21" width="1" height="32.34" fill="#e15454"/><rect x="909" y="1186.21" width="1" height="64.69" fill="#b0b0ff"/><rect x="913" y="1218.56" width="1" height="32.34" fill="#6464ff"/><rect x="914" y="1218.56" width="1" height="32.34" fill="#2828ff"/><rect x="914" y="1186.21" width="1" height="32.34" fill="#e15454"/><rect x="918" y="1218.56" width="1" height="32.34" fill="#6464ff"/><rect x="923" y="1218.56" width="1" height="32.34" fill="#2828ff"/><rect x="927" y="1218.56" width="1" height="32.34" fill="#e15454"/><rect x="928" y="1218.56" width="1" height="32.34" fill="#6464ff"/><rect x="932" y="1218.56" width="1" height="32.34" fill="#8a3aa8"/><rect x="934" y="1218.56" width="1" height="32.34" fill="#f2abab"/><rect x="935" y="1218.56" width="1" height="32.34" fill="#b0b0ff"/><rect x="938" y="1218.56" width="1" height="32.34" fill="#6464ff"/><rect x="940" y="1218.56" width="1" height="32.34" fill="#b0b0ff"/><rect x="942" y="1218.56" width="1" height="32.34" fill="#f2abab"/><rect x="943" y="1218.56" width="1" height="32.34" fill="#e15454"/><rect x="944" y="1218.56" width="1" height="32.34" fill="#e03434"/><rect x="946" y="1218.56" width="1" height="32.34" fill="#6464ff"/><rect x="949" y="1218.56" width="1" height="32.34" fill="#f2abab"/><rect x="952" y="1218.56" width="1" height="32.34" fill="#b41c3c"/><rect x="952" y="1186.21" width="1" height="32.34" fill="#e15454"/><rect x="955" y="1218.56" width="1" height="32.34" fill="#e03434"/><rect x="956" y="1218.56" width="1" height="32.34" fill="#b41c3c"/><rect x="956" y="1186.21" width="1" height="32.34" fill="#6464ff"/><rect x="962" y="1218.56" width="1" height="32.34" fill="#e03434"/><rect x="964" y="1218.56" width="1" height="32.34" fill="#6464ff"/><rect x="969" y="1218.56" width="1" height="32.34" fill="#6464ff"/><rect x="972" y="1218.56" width="1" height="32.34" fill="#6464ff"/><rect x="981" y="1218.56" width="1" height="32.34" fill="#6464ff"/><rect x="984" y="1218.56" width="1" height="32.34" fill="#e15454"/><rect x="990" y="1218.56" width="1" height="32.34" fill="#6464ff"/><rect x="992" y="1218.56" width="1" height="32.34" fill="#6464ff"/><rect x="996" y="1218.56" width="1" height="32.34" fill="#2828ff"/><rect x="997" y="1218.56" width="1" height="32.34" fill="#2828ff"/><rect x="997" y="1186.21" width="1" height="32.34" fill="#e15454"/><rect x="999" y="1218.56" width="1" height="32.34" fill="#e15454"/><rect x="1002" y="1218.56" width="1" height="32.34" fill="#f2abab"/><rect x="1003" y="1218.56" width="1" height="32.34" fill="#6464ff"/><rect x="1007" y="1218.56" width="1" height="32.34" fill="#e15454"/><rect x="1009" y="1218.56" width="1" height="32.34" fill="#f2abab"/><rect x="1013" y="1218.56" width="1" height="32.34" fill="#e03434"/><rect x="1014" y="1218.56" width="1" height="32.34" fill="#2828ff"/><rect x="1015" y="1153.87" width="1" height="97.03" fill="#6464ff"/><rect x="1022" y="1218.56" width="1" height="32.34" fill="#e15454"/><rect x="1029" y="1218.56" width="1" height="32.34" fill="#6464ff"/><rect x="1039" y="1218.56" width="1" height="32.34" fill="#8a3aa8"/><rect x="1042" y="1218.56" width="1" height="32.34" fill="#b0b0ff"/><rect x="1045" y="1218.56" width="1" height="32.34" fill="#e15454"/><rect x="1047" y="1218.56" width="1" height="32.34" fill="#e03434"/><rect x="1049" y="1218.56" width="1" height="32.34" fill="#6464ff"/><rect x="1055" y="1218.56" width="1" height="32.34" fill="#6464ff"/><rect x="1063" y="1218.56" width="1" height="32.34" fill="#e03434"/><rect x="1075" y="1218.56" width="1" height="32.34" fill="#e03434"/><rect x="1078" y="1218.56" width="1" height="32.34" fill="#f2abab"/><rect x="1079" y="1218.56" width="1" height="32.34" fill="#6464ff"/><rect x="1084" y="1218.56" width="1" height="32.34" fill="#b0b0ff"/><rect x="1095" y="1218.56" width="1" height="32.34" fill="#6464ff"/><rect x="1098" y="1186.21" width="1" height="64.69" fill="#e15454"/><rect x="1100" y="1218.56" width="1" height="32.34" fill="#e15454"/><rect x="1107" y="1218.56" width="1" height="32.34" fill="#2828ff"/><rect x="1110" y="1218.56" width="1" height="32.34" fill="#6464ff"/><rect x="1117" y="1218.56" width="1" height="32.34" fill="#2828ff"/><rect x="1120" y="1218.56" width="1" height="32.34" fill="#e03434"/><rect x="1123" y="1218.56" width="1" height="32.34" fill="#e15454"/><rect x="1128" y="1218.56" width="1" height="32.34" fill="#b0b0ff"/><rect x="1131" y="1218.56" width="1" height="32.34" fill="#e15454"/><rect x="1134" y="1218.56" width="1" height="32.34" fill="#8a3aa8"/><rect x="1136" y="1218.56" width="1" height="32.34" fill="#b41c3c"/><rect x="1138" y="1218.56" width="1" height="32.34" fill="#6464ff"/></g>
<text transform="translate(118.40,1263.70) scale(0.975,1)" text-anchor="end" class="tk">0</text>
<text transform="translate(118.40,1199.01) scale(0.975,1)" text-anchor="end" class="tk">2</text>
<text transform="translate(118.40,1134.33) scale(0.975,1)" text-anchor="end" class="tk">4</text>
<text transform="translate(118.40,1069.64) scale(0.975,1)" text-anchor="end" class="tk">6</text>
<text transform="translate(118.40,1004.96) scale(0.975,1)" text-anchor="end" class="tk">8</text>
<text transform="translate(118.40,940.27) scale(0.975,1)" text-anchor="end" class="tk">10</text>
<text transform="translate(118.40,875.58) scale(0.975,1)" text-anchor="end" class="tk">12</text>
<text transform="translate(118.40,810.90) scale(0.975,1)" text-anchor="end" class="tk">14</text>
<text transform="translate(219.20,1281.00) rotate(-90) scale(0.953,1)" text-anchor="end" class="tk">2016</text>
<text transform="translate(494.70,1281.00) rotate(-90) scale(0.953,1)" text-anchor="end" class="tk">2018</text>
<text transform="translate(770.50,1281.00) rotate(-90) scale(0.953,1)" text-anchor="end" class="tk">2020</text>
<text transform="translate(1046.10,1281.00) rotate(-90) scale(0.953,1)" text-anchor="end" class="tk">2022</text>
<text transform="translate(657.15,758.00) scale(0.945,1)" text-anchor="middle" class="ti">DK</text>
<text transform="translate(31.00,1024.35) rotate(-90) scale(0.965,1)" text-anchor="middle" class="ax">Frequency</text>
<text transform="translate(656.75,1424.00) scale(0.974,1)" text-anchor="middle" class="ax2">Date</text>
</svg>
</body></html>
